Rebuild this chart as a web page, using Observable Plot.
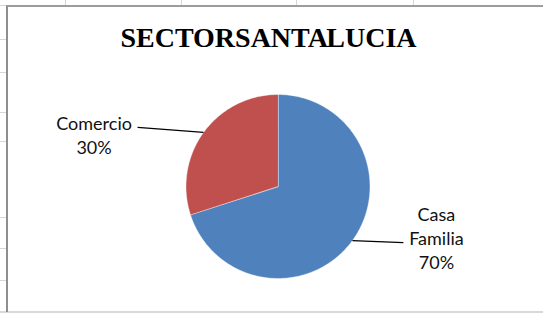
<!DOCTYPE html>
<html><head><meta charset="utf-8">
<script src="https://cdn.jsdelivr.net/npm/d3@7"></script>
<script src="https://cdn.jsdelivr.net/npm/@observablehq/plot@0.6"></script>
<style>
html,body{margin:0;padding:0;background:#fff;}
#wrap{position:relative;width:543px;height:314px;overflow:hidden;background:#fff;}
.g{position:absolute;background:#d6d6d6;}
#frame{position:absolute;left:6px;top:5px;width:560px;height:305px;border-left:2px solid #8e8e8e;border-top:2px solid #9c9c9c;}
#bottom{position:absolute;left:0;top:311px;width:543px;height:2px;background:#d9d9d9;}
#chart{position:absolute;left:0;top:0;}
</style></head><body><div id="wrap"></div>
<script>
// ---- data ----
const title = "SECTOR SANTA LUCIA";
const categories = ["Casa Familia", "Comercio"];
const labelLines = ["Casa\nFamilia", "Comercio"];
const values = [70, 30];
const colors = ["#4F81BD", "#C0504D"];

// ---- layout (spreadsheet decoration + pie geometry) ----
const W = 543, H = 314;
const colLines = [65, 181, 296, 413];
const rowLines = [39, 72, 112, 141, 217, 248, 280];
const cx = 277.5, cy = 186, R = 92;
// leader-line end offsets from slice anchor, and text offset from line end
const labelLayout = [
  {ldx: 51, ldy: 2, tdx: 33, tdy: 26},
  {ldx: -66, ldy: -5, tdx: -43.5, tdy: 27}
];

const wrap = document.getElementById("wrap");
for (const x of colLines) {
  const d = document.createElement("div"); d.className = "g";
  Object.assign(d.style, {left: x + "px", top: "0px", width: "1px", height: "5px"});
  wrap.appendChild(d);
}
for (const y of rowLines) {
  const d = document.createElement("div"); d.className = "g";
  Object.assign(d.style, {left: "0px", top: y + "px", width: "6px", height: "1px"});
  wrap.appendChild(d);
}
{
  const d = document.createElement("div"); d.className = "g";
  Object.assign(d.style, {left: "0px", top: "5px", width: "6px", height: "1px"});
  wrap.appendChild(d);
}
const bottom = document.createElement("div"); bottom.id = "bottom"; wrap.appendChild(bottom);
const frame = document.createElement("div"); frame.id = "frame"; wrap.appendChild(frame);

// ---- pie geometry from data ----
const total = d3.sum(values);
const arcs = d3.pie().sort(null).value(d => d)(values);
const pt = (a, r) => [cx + r * Math.sin(a), cy - r * Math.cos(a)];
const slices = [];
arcs.forEach((a, i) => {
  const n = Math.max(2, Math.ceil((a.endAngle - a.startAngle) / (Math.PI / 180)));
  const [x0, y0] = pt(0, 0);
  slices.push({cat: categories[i], x: x0, y: y0});
  for (let k = 0; k <= n; k++) {
    const ang = a.startAngle + (a.endAngle - a.startAngle) * k / n;
    const [x, y] = pt(ang, R);
    slices.push({cat: categories[i], x, y});
  }
});
const leaders = arcs.map((a, i) => {
  const mid = (a.startAngle + a.endAngle) / 2;
  const [x1, y1] = pt(mid, R);
  const L = labelLayout[i];
  const x2 = x1 + L.ldx, y2 = y1 + L.ldy;
  return {x1, y1, x2, y2, tx: x2 + L.tdx, ty: y2 + L.tdy,
          text: labelLines[i] + "\n" + Math.round(values[i] / total * 100) + "%"};
});

const chart = Plot.plot({
  width: W, height: H, margin: 0,
  x: {domain: [0, W], range: [0, W], axis: null},
  y: {domain: [0, H], range: [0, H], axis: null},
  color: {domain: categories, range: colors},
  style: {background: "transparent", overflow: "visible"},
  marks: [
    Plot.line(slices, {x: "x", y: "y", z: "cat", fill: "cat", stroke: "#ffffff", strokeWidth: 0.6, strokeOpacity: 0.7, curve: "linear-closed"}),
    Plot.link(leaders, {x1: "x1", y1: "y1", x2: "x2", y2: "y2", stroke: "#000", strokeWidth: 1.3}),
    Plot.text(leaders, {x: "tx", y: "ty", text: "text", lineAnchor: "bottom", lineHeight: 1.33,
      fontSize: 18, fontFamily: "Lato", fill: "#111"}),
    Plot.text([title], {frameAnchor: "top", dx: -3.5, dy: 46, lineAnchor: "bottom",
      fontSize: 28, fontWeight: "bold", fontFamily: "Liberation Serif", fill: "#000"})
  ]
});
chart.id = "chart";
chart.style.wordSpacing = "-7px";
wrap.appendChild(chart);
</script>
</body></html>
